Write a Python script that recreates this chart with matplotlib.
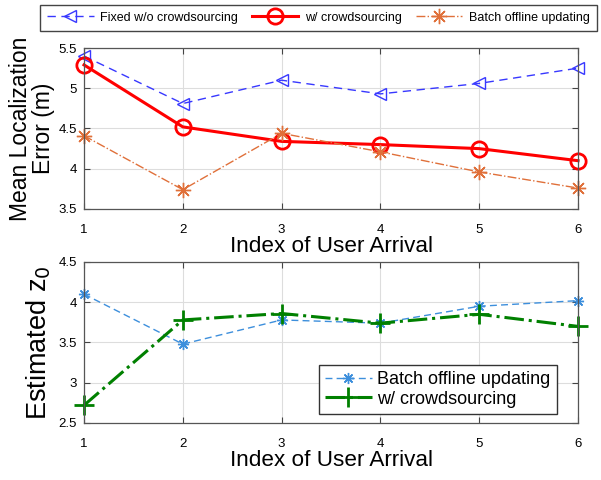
import matplotlib.pyplot as plt

plt.rcParams['font.family'] = ['Liberation Sans', 'DejaVu Sans']

# data
idx = [1, 2, 3, 4, 5, 6]
err_fixed = [5.40, 4.81, 5.10, 4.93, 5.06, 5.25]
err_crowd = [5.29, 4.52, 4.34, 4.30, 4.25, 4.10]
err_batch = [4.41, 3.74, 4.44, 4.21, 3.96, 3.76]
z0_batch = [4.10, 3.48, 3.78, 3.74, 3.95, 4.02]
z0_crowd = [2.72, 3.78, 3.86, 3.74, 3.85, 3.70]
xticks = [1, 2, 3, 4, 5, 6]

star = (8, 2, 0)  # matlab-like asterisk

fig = plt.figure(figsize=(6.01, 4.80), dpi=100)
ax1 = fig.add_axes([0.1398, 0.5646, 0.822, 0.3354])
ax2 = fig.add_axes([0.1398, 0.1188, 0.822, 0.3354])

l1, = ax1.plot(idx, err_fixed, color='#3838ff', ls=(0, (6, 4)), lw=1.0, marker='<',
               ms=9, mfc='none', mew=1.0, label='Fixed w/o crowdsourcing', clip_on=False)
l2, = ax1.plot(idx, err_crowd, color='red', ls='-', lw=2.2, marker='o',
               ms=11, mfc='none', mew=2.0, label='w/ crowdsourcing', clip_on=False)
l3, = ax1.plot(idx, err_batch, color='#e0703a', ls='-.', lw=1.0, marker=star,
               ms=11, mew=1.0, label='Batch offline updating', clip_on=False)
ax1.set_ylim(3.5, 5.5)
ax1.set_yticks([3.5, 4, 4.5, 5, 5.5])
ax1.set_yticklabels(['3.5', '4', '4.5', '5', '5.5'])
ax1.set_ylabel('Mean Localization\nError (m)', fontsize=16.5, labelpad=3, linespacing=0.95)

ax2.plot(idx, z0_batch, color='#3d8fdc', ls=(0, (5, 3)), lw=1.0, marker=star,
         ms=8, mew=1.0, label='Batch offline updating', clip_on=False)
ax2.plot(idx, z0_crowd, color='#008000', ls='-.', lw=2.2, marker='+',
         ms=14, mew=2.0, label='w/ crowdsourcing', clip_on=False)
ax2.set_ylim(2.5, 4.5)
ax2.set_yticks([2.5, 3, 3.5, 4, 4.5])
ax2.set_yticklabels(['2.5', '3', '3.5', '4', '4.5'])
ax2.set_ylabel('Estimated z$_0$', fontsize=19.5, labelpad=4)
ax2.legend(loc='lower right', bbox_to_anchor=(0.957, 0.056), fontsize=13,
           fancybox=False, edgecolor='#333333', framealpha=1,
           handlelength=2.6, borderpad=0.35, labelspacing=0.15, handletextpad=0.3,
           borderaxespad=0)

for ax in (ax1, ax2):
    ax.set_xlim(1, 6)
    ax.set_xticks(xticks)
    ax.set_xlabel('Index of User Arrival', fontsize=16.2, labelpad=0)
    ax.grid(True, color='#dddddd', lw=0.8)
    ax.set_axisbelow(True)
    ax.tick_params(direction='in', top=True, right=True, labelsize=9.5,
                   length=4, color='#444444', pad=5)
    ax.tick_params(axis='x', pad=11)
    for s in ax.spines.values():
        s.set_color('#555555')
        s.set_linewidth(0.9)

fig.legend(handles=[l1, l2, l3], loc='upper center', bbox_to_anchor=(0.53, 0.99),
           ncol=3, fontsize=9, fancybox=False, edgecolor='#444444', framealpha=1,
           handlelength=3.7, columnspacing=1.1, handletextpad=0.55, borderpad=0.55,
           borderaxespad=0)

fig.savefig('out.png', dpi=100)
